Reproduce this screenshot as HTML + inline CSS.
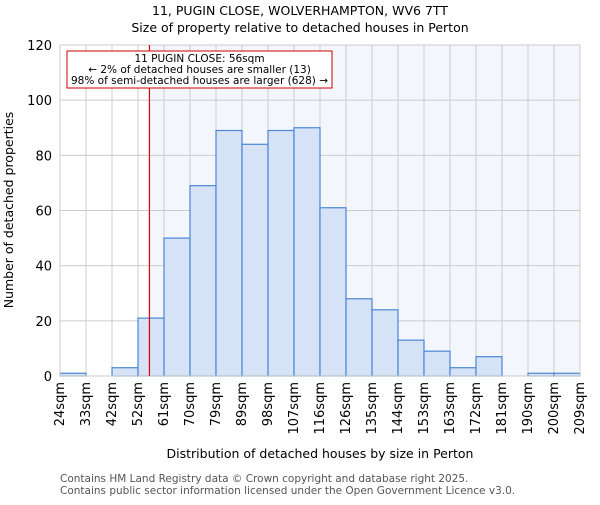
<!DOCTYPE html>
<html><head><meta charset="utf-8"><style>body{margin:0;background:#fff}svg{font-family:"DejaVu Sans","Liberation Sans",sans-serif}</style></head>
<body>
<svg id="c" width="600" height="500" xmlns="http://www.w3.org/2000/svg">
<g id="grid"></g>
<g id="bars"></g>
<g id="axes"></g>
<text x="300" y="15" text-anchor="middle" font-size="12.5">11, PUGIN CLOSE, WOLVERHAMPTON, WV6 7TT</text>
<text x="300" y="32" text-anchor="middle" font-size="12.5">Size of property relative to detached houses in Perton</text>
<text x="320" y="458" text-anchor="middle" font-size="12.5">Distribution of detached houses by size in Perton</text>
<text transform="translate(13,210) rotate(-90)" text-anchor="middle" font-size="12.5">Number of detached properties</text>
<text x="60" y="482" font-size="10.5" fill="#555">Contains HM Land Registry data © Crown copyright and database right 2025.</text>
<text x="60" y="494" font-size="10.5" fill="#555">Contains public sector information licensed under the Open Government Licence v3.0.</text>
</svg>
<script>
const categories=["24sqm","33sqm","42sqm","52sqm","61sqm","70sqm","79sqm","89sqm","98sqm","107sqm","116sqm","126sqm","135sqm","144sqm","153sqm","163sqm","172sqm","181sqm","190sqm","200sqm","209sqm"];
const counts=[1,0,3,21,50,69,89,84,89,90,61,28,24,13,9,3,7,0,1,1];
const yTicks=[0,20,40,60,80,100,120];
const propertyBinPos=3.44;
const NS="http://www.w3.org/2000/svg";
const L=60,R=580,T=45,B=376,yMax=120;
const bw=(R-L)/counts.length;
const x=i=>L+i*bw;
const y=v=>B-(v/yMax)*(B-T);
function mk(tag,attrs,parent){const e=document.createElementNS(NS,tag);for(const k in attrs)e.setAttribute(k,attrs[k]);document.getElementById(parent).appendChild(e);return e;}
const px=x(propertyBinPos);
let bg=mk('rect',{x:px,y:T,width:R-px,height:B-T,fill:'#f3f6fd'},'grid');


for(let i=0;i<=counts.length;i++){let g=mk('line',{x1:x(i),x2:x(i),y1:T,y2:B,stroke:'#ccc','stroke-width':1},'grid');

}
yTicks.forEach(t=>{let g=mk('line',{x1:L,x2:R,y1:y(t),y2:y(t),stroke:'#ccc','stroke-width':1},'grid');


let tl=mk('text',{x:L-8,y:y(t)+5,'text-anchor':'end','font-size':13},'axes');tl.textContent=t;

});
counts.forEach((v,i)=>{if(v<=0)return;let r=mk('rect',{x:x(i),y:y(v),width:bw,height:B-y(v),fill:'#d6e2f5',stroke:'#4a86d4','stroke-width':1.2},'bars');

});
categories.forEach((c,i)=>{let t=mk('text',{transform:`translate(${x(i)+4},382) rotate(-90)`,'text-anchor':'end','font-size':13},'axes');t.textContent=c;

});
let ax=mk('rect',{x:L,y:T,width:R-L,height:B-T,fill:'none',stroke:'#ccc'},'axes');


let ml=mk('line',{x1:px,x2:px,y1:T,y2:B,stroke:'#dd0000','stroke-width':1.2},'axes');


let box=mk('rect',{x:67,y:51,width:265,height:37,fill:'#fff',stroke:'#cc0000','stroke-width':1},'axes');


["11 PUGIN CLOSE: 56sqm","← 2% of detached houses are smaller (13)","98% of semi-detached houses are larger (628) →"].forEach((s,i)=>{let t=mk('text',{x:199.5,y:62+i*11,'text-anchor':'middle','font-size':10.5},'axes');t.textContent=s;

});
</script>
</body></html>
